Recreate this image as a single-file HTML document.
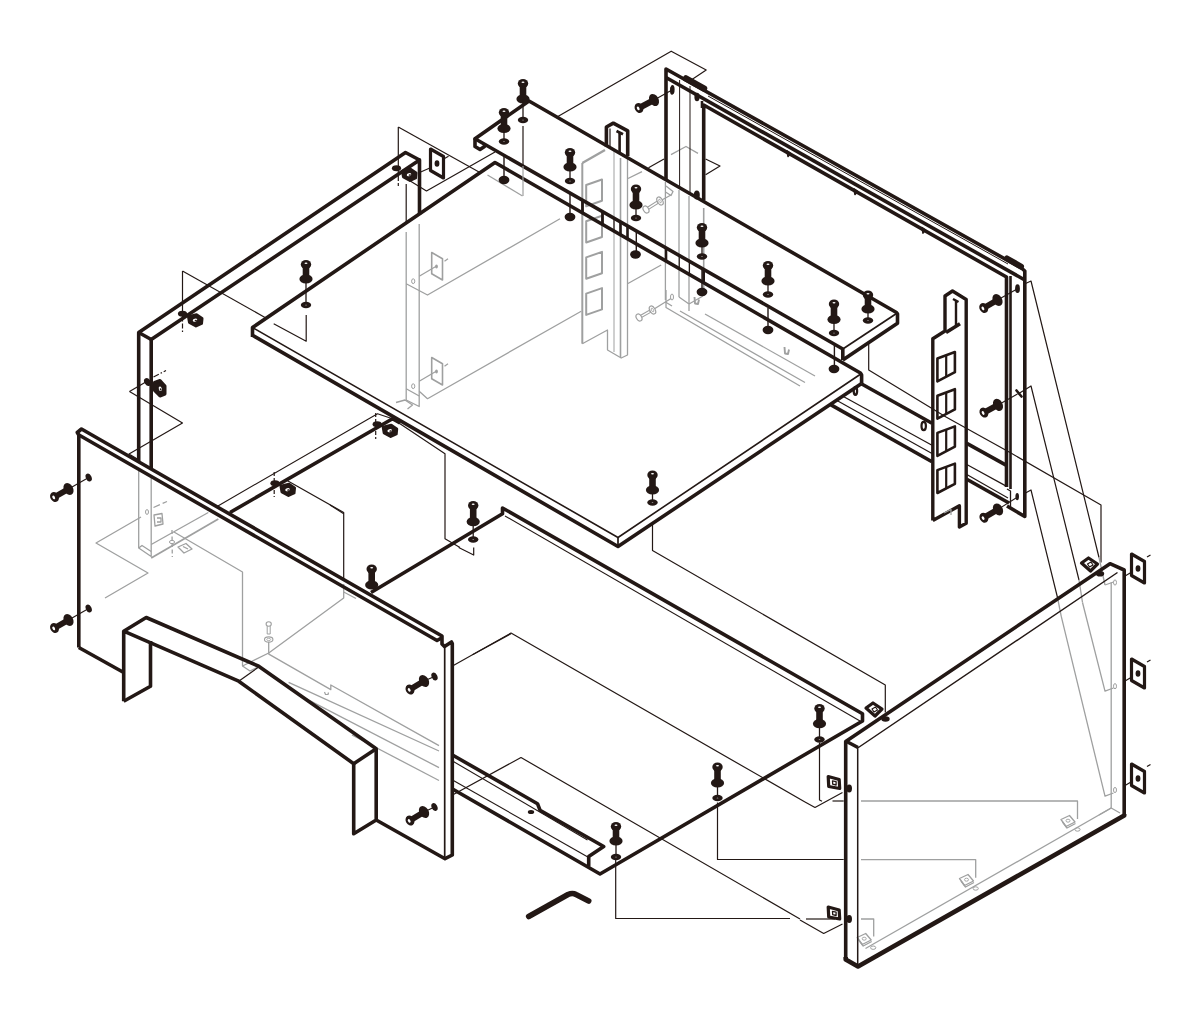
<!DOCTYPE html>
<html><head><meta charset="utf-8"><title>Exploded view</title>
<style>html,body{margin:0;padding:0;background:#fff;overflow:hidden}svg{display:block;position:absolute;left:0;top:0}</style></head>
<body>
<svg width="1200" height="1019" viewBox="0 0 1200 1019">
<path d="M406.2 232.0 L406.2 400.0 L419.2 406.5 L419.2 224.0" fill="none" stroke="#9fa0a0" stroke-width="1.30" stroke-linejoin="round" stroke-linecap="butt"/>
<path d="M396.0 402.5 L405.0 400.0 L412.5 405.0 L407.5 409.0" fill="none" stroke="#9fa0a0" stroke-width="1.30" stroke-linejoin="round" stroke-linecap="butt"/>
<path d="M431.7 252.5 L442.5 258.7 L442.5 280.0 L431.7 273.7 Z" fill="none" stroke="#9fa0a0" stroke-width="1.60" stroke-linejoin="round" stroke-linecap="butt"/>
<ellipse cx="436.5" cy="266.5" rx="1.4" ry="1.9" fill="#9fa0a0" stroke="none" stroke-width="0.00"/>
<ellipse cx="413.2" cy="281.2" rx="1.6" ry="2.4" fill="none" stroke="#9fa0a0" stroke-width="1.00"/>
<path d="M419.2 276.2 L436.2 266.2" fill="none" stroke="#9fa0a0" stroke-width="1.30" stroke-linejoin="round" stroke-linecap="butt"/>
<path d="M444.5 261.2 L448.0 258.8" fill="none" stroke="#9fa0a0" stroke-width="1.30" stroke-linejoin="round" stroke-linecap="butt"/>
<path d="M431.7 357.5 L442.5 363.7 L442.5 385.0 L431.7 378.7 Z" fill="none" stroke="#9fa0a0" stroke-width="1.60" stroke-linejoin="round" stroke-linecap="butt"/>
<ellipse cx="436.5" cy="371.5" rx="1.4" ry="1.9" fill="#9fa0a0" stroke="none" stroke-width="0.00"/>
<ellipse cx="413.2" cy="386.2" rx="1.6" ry="2.4" fill="none" stroke="#9fa0a0" stroke-width="1.00"/>
<path d="M419.2 381.2 L436.2 371.2" fill="none" stroke="#9fa0a0" stroke-width="1.30" stroke-linejoin="round" stroke-linecap="butt"/>
<path d="M444.5 366.2 L448.0 363.8" fill="none" stroke="#9fa0a0" stroke-width="1.30" stroke-linejoin="round" stroke-linecap="butt"/>
<path d="M406.2 283.7 L427.5 295.0 L560.0 218.7" fill="none" stroke="#9fa0a0" stroke-width="1.30" stroke-linejoin="round" stroke-linecap="butt"/>
<path d="M419.2 391.2 L427.5 398.7 L581.2 311.2" fill="none" stroke="#9fa0a0" stroke-width="1.30" stroke-linejoin="round" stroke-linecap="butt"/>
<path d="M406.2 388.7 L419.2 396.0" fill="none" stroke="#9fa0a0" stroke-width="1.30" stroke-linejoin="round" stroke-linecap="butt"/>
<path d="M582.3 163.0 L582.3 343.7" fill="none" stroke="#9fa0a0" stroke-width="2.00" stroke-linejoin="round" stroke-linecap="butt"/>
<path d="M582.3 343.7 L607.5 330.0 L607.5 350.0 L621.2 358.0 L627.5 355.0 L627.5 158.0" fill="none" stroke="#9fa0a0" stroke-width="1.30" stroke-linejoin="round" stroke-linecap="butt"/>
<path d="M582.3 163.0 L605.0 150.0" fill="none" stroke="#9fa0a0" stroke-width="2.40" stroke-linejoin="round" stroke-linecap="butt"/>
<path d="M614.0 150.0 L614.0 352.0" fill="none" stroke="#9fa0a0" stroke-width="1.00" stroke-linejoin="round" stroke-linecap="butt"/>
<path d="M620.5 158.0 L620.5 357.0" fill="none" stroke="#9fa0a0" stroke-width="1.60" stroke-linejoin="round" stroke-linecap="butt"/>
<path d="M586.2 185.0 L602.0 179.5 L602.0 200.8 L586.2 206.3 Z" fill="none" stroke="#9fa0a0" stroke-width="2.00" stroke-linejoin="round" stroke-linecap="butt"/>
<path d="M586.2 221.2 L602.0 215.7 L602.0 237.0 L586.2 242.5 Z" fill="none" stroke="#9fa0a0" stroke-width="2.00" stroke-linejoin="round" stroke-linecap="butt"/>
<path d="M586.2 257.4 L602.0 251.9 L602.0 273.2 L586.2 278.7 Z" fill="none" stroke="#9fa0a0" stroke-width="2.00" stroke-linejoin="round" stroke-linecap="butt"/>
<path d="M586.2 293.6 L602.0 288.1 L602.0 309.4 L586.2 314.9 Z" fill="none" stroke="#9fa0a0" stroke-width="2.00" stroke-linejoin="round" stroke-linecap="butt"/>
<path d="M628.0 178.5 L642.0 171.6" fill="none" stroke="#9fa0a0" stroke-width="1.30" stroke-linejoin="round" stroke-linecap="butt"/>
<path d="M660.0 201.0 L671.0 195.0" fill="none" stroke="#9fa0a0" stroke-width="1.30" stroke-linejoin="round" stroke-linecap="butt"/>
<path d="M646.0 209.5 L658.0 202.0" fill="none" stroke="#9fa0a0" stroke-width="3.40" stroke-linejoin="round" stroke-linecap="butt"/>
<path d="M647.0 209.0 L657.0 202.6" fill="none" stroke="#fff" stroke-width="1.40" stroke-linejoin="round" stroke-linecap="butt"/>
<ellipse cx="646.0" cy="209.5" rx="2.6" ry="3.8" fill="#fff" stroke="#9fa0a0" stroke-width="1.20" transform="rotate(-30 646.0 209.5)"/>
<ellipse cx="660.0" cy="201.0" rx="2.6" ry="4.4" fill="#fff" stroke="#9fa0a0" stroke-width="1.20" transform="rotate(-30 660.0 201.0)"/>
<ellipse cx="660.0" cy="201.0" rx="1.0" ry="2.0" fill="#fff" stroke="#9fa0a0" stroke-width="0.80" transform="rotate(-30 660.0 201.0)"/>
<path d="M652.5 310.0 L671.0 298.5" fill="none" stroke="#9fa0a0" stroke-width="1.30" stroke-linejoin="round" stroke-linecap="butt"/>
<path d="M639.0 317.5 L650.5 311.0" fill="none" stroke="#9fa0a0" stroke-width="3.40" stroke-linejoin="round" stroke-linecap="butt"/>
<path d="M640.0 317.0 L649.5 311.6" fill="none" stroke="#fff" stroke-width="1.40" stroke-linejoin="round" stroke-linecap="butt"/>
<ellipse cx="639.0" cy="317.5" rx="2.6" ry="3.8" fill="#fff" stroke="#9fa0a0" stroke-width="1.20" transform="rotate(-30 639.0 317.5)"/>
<ellipse cx="652.5" cy="310.0" rx="2.6" ry="4.4" fill="#fff" stroke="#9fa0a0" stroke-width="1.20" transform="rotate(-30 652.5 310.0)"/>
<ellipse cx="652.5" cy="310.0" rx="1.0" ry="2.0" fill="#fff" stroke="#9fa0a0" stroke-width="0.80" transform="rotate(-30 652.5 310.0)"/>
<path d="M666.0 186.0 L673.0 191.5 L671.0 195.5 L665.5 192.0" fill="none" stroke="#9fa0a0" stroke-width="1.30" stroke-linejoin="round" stroke-linecap="butt"/>
<path d="M665.4 182.0 L665.4 300.0" fill="none" stroke="#9fa0a0" stroke-width="1.30" stroke-linejoin="round" stroke-linecap="butt"/>
<path d="M679.0 190.0 L679.0 297.0" fill="none" stroke="#9fa0a0" stroke-width="1.30" stroke-linejoin="round" stroke-linecap="butt"/>
<path d="M689.0 196.0 L689.0 304.0" fill="none" stroke="#9fa0a0" stroke-width="1.30" stroke-linejoin="round" stroke-linecap="butt"/>
<path d="M703.7 208.0 L703.7 296.0" fill="none" stroke="#9fa0a0" stroke-width="1.60" stroke-linejoin="round" stroke-linecap="butt"/>
<path d="M627.5 283.7 L661.2 265.0" fill="none" stroke="#9fa0a0" stroke-width="1.30" stroke-linejoin="round" stroke-linecap="butt"/>
<path d="M665.4 302.0 L672.0 306.0" fill="none" stroke="#9fa0a0" stroke-width="1.30" stroke-linejoin="round" stroke-linecap="butt"/>
<ellipse cx="672.0" cy="297.0" rx="1.5" ry="3.0" fill="none" stroke="#9fa0a0" stroke-width="1.00"/>
<path d="M671.0 154.6 L686.0 146.5 L698.0 153.4" fill="none" stroke="#9fa0a0" stroke-width="1.30" stroke-linejoin="round" stroke-linecap="butt"/>
<path d="M666.0 290.0 L666.0 307.5 L800.0 386.0" fill="none" stroke="#9fa0a0" stroke-width="1.30" stroke-linejoin="round" stroke-linecap="butt"/>
<path d="M680.0 311.0 L805.0 382.5" fill="none" stroke="#9fa0a0" stroke-width="1.30" stroke-linejoin="round" stroke-linecap="butt"/>
<path d="M705.0 314.0 L815.0 376.0" fill="none" stroke="#9fa0a0" stroke-width="1.30" stroke-linejoin="round" stroke-linecap="butt"/>
<path d="M694.5 297.0 L695.0 303.5 L698.0 304.0 L699.0 299.5" fill="none" stroke="#9fa0a0" stroke-width="1.90" stroke-linejoin="round" stroke-linecap="butt"/>
<path d="M784.5 347.0 L785.0 353.5 L788.0 354.0 L789.0 349.5" fill="none" stroke="#9fa0a0" stroke-width="1.90" stroke-linejoin="round" stroke-linecap="butt"/>
<path d="M679.0 297.0 L689.0 304.0 L689.0 311.0" fill="none" stroke="#9fa0a0" stroke-width="1.30" stroke-linejoin="round" stroke-linecap="butt"/>
<path d="M689.0 304.0 L703.0 296.0" fill="none" stroke="#9fa0a0" stroke-width="1.30" stroke-linejoin="round" stroke-linecap="butt"/>
<path d="M138.7 470.0 L138.7 548.0 L151.2 556.5 L151.2 475.0" fill="none" stroke="#9fa0a0" stroke-width="1.30" stroke-linejoin="round" stroke-linecap="butt"/>
<path d="M138.7 548.0 L142.0 545.5 L151.2 551.5" fill="none" stroke="#9fa0a0" stroke-width="1.30" stroke-linejoin="round" stroke-linecap="butt"/>
<path d="M151.2 558.0 L218.3 519.0" fill="none" stroke="#9fa0a0" stroke-width="1.80" stroke-linejoin="round" stroke-linecap="butt"/>
<path d="M151.2 544.5 L208.3 512.5" fill="none" stroke="#9fa0a0" stroke-width="1.30" stroke-linejoin="round" stroke-linecap="butt"/>
<path d="M172.0 530.0 L172.3 557.0" fill="none" stroke="#9fa0a0" stroke-width="1.30" stroke-linejoin="round" stroke-linecap="butt" stroke-dasharray="4 2.5"/>
<ellipse cx="147.0" cy="512.0" rx="1.5" ry="2.4" fill="none" stroke="#9fa0a0" stroke-width="1.00"/>
<ellipse cx="172.0" cy="542.0" rx="2.6" ry="1.6" fill="none" stroke="#9fa0a0" stroke-width="1.00"/>
<path d="M153.5 507.5 L167.0 501.5" fill="none" stroke="#9fa0a0" stroke-width="1.30" stroke-linejoin="round" stroke-linecap="butt" stroke-dasharray="7 3"/>
<path d="M154.0 515.0 L162.0 513.5 L163.0 524.0 L155.0 526.0 Z" fill="none" stroke="#9fa0a0" stroke-width="1.30" stroke-linejoin="round" stroke-linecap="butt"/>
<path d="M157.0 518.0 L161.0 518.0 L161.0 522.0 L157.0 522.0" fill="none" stroke="#9fa0a0" stroke-width="1.30" stroke-linejoin="round" stroke-linecap="butt"/>
<path d="M178.0 547.0 L186.0 543.5 L192.0 549.0 L184.0 553.0 Z" fill="none" stroke="#9fa0a0" stroke-width="1.30" stroke-linejoin="round" stroke-linecap="butt"/>
<path d="M183.0 546.5 L188.0 549.0" fill="none" stroke="#9fa0a0" stroke-width="1.30" stroke-linejoin="round" stroke-linecap="butt"/>
<path d="M141.0 517.0 L96.0 543.0 L148.0 573.0 L105.0 598.0" fill="none" stroke="#9fa0a0" stroke-width="1.30" stroke-linejoin="round" stroke-linecap="butt"/>
<path d="M174.0 532.0 L242.5 572.0 L242.5 666.0 L250.0 671.0 L260.0 666.0" fill="none" stroke="#9fa0a0" stroke-width="1.30" stroke-linejoin="round" stroke-linecap="butt"/>
<path d="M343.7 584.0 L343.7 598.0 L268.7 653.0 L242.5 666.0" fill="none" stroke="#9fa0a0" stroke-width="1.30" stroke-linejoin="round" stroke-linecap="butt"/>
<path d="M343.7 592.0 L356.0 598.5" fill="none" stroke="#9fa0a0" stroke-width="1.30" stroke-linejoin="round" stroke-linecap="butt"/>
<path d="M268.4 653.9 L330.8 689.6 L330.8 685.0 L439.0 745.6" fill="none" stroke="#9fa0a0" stroke-width="1.30" stroke-linejoin="round" stroke-linecap="butt"/>
<path d="M288.6 682.3 L439.0 751.0" fill="none" stroke="#9fa0a0" stroke-width="1.30" stroke-linejoin="round" stroke-linecap="butt"/>
<path d="M301.0 696.1 L439.0 767.6" fill="none" stroke="#9fa0a0" stroke-width="1.30" stroke-linejoin="round" stroke-linecap="butt"/>
<path d="M352.0 735.0 L439.0 780.5" fill="none" stroke="#9fa0a0" stroke-width="1.30" stroke-linejoin="round" stroke-linecap="butt"/>
<path d="M324.5 692.0 L325.5 694.5 L328.0 694.5 L328.5 692.5" fill="none" stroke="#9fa0a0" stroke-width="1.20" stroke-linejoin="round" stroke-linecap="butt"/>
<ellipse cx="268.7" cy="624.0" rx="2.6" ry="2.2" fill="#fff" stroke="#9fa0a0" stroke-width="1.10"/>
<path d="M267.2 626.0 L267.2 634.0 L270.2 634.0 L270.2 626.0" fill="none" stroke="#9fa0a0" stroke-width="1.00" stroke-linejoin="round" stroke-linecap="butt"/>
<ellipse cx="268.7" cy="639.5" rx="4.2" ry="2.6" fill="#fff" stroke="#9fa0a0" stroke-width="1.10"/>
<ellipse cx="268.7" cy="639.5" rx="2.0" ry="1.1" fill="#fff" stroke="#9fa0a0" stroke-width="0.80"/>
<path d="M268.7 642.0 L268.7 653.7" fill="none" stroke="#9fa0a0" stroke-width="1.30" stroke-linejoin="round" stroke-linecap="butt"/>
<path d="M1111.2 582.5 L1111.2 808.0 L1120.0 813.0" fill="none" stroke="#9fa0a0" stroke-width="1.30" stroke-linejoin="round" stroke-linecap="butt"/>
<path d="M1099.0 815.0 L1111.2 808.0" fill="none" stroke="#9fa0a0" stroke-width="1.30" stroke-linejoin="round" stroke-linecap="butt"/>
<path d="M865.5 948.5 L1111.2 808.0" fill="none" stroke="#9fa0a0" stroke-width="1.30" stroke-linejoin="round" stroke-linecap="butt"/>
<ellipse cx="1115.0" cy="582.5" rx="1.5" ry="2.6" fill="none" stroke="#9fa0a0" stroke-width="1.00"/>
<ellipse cx="1115.0" cy="686.2" rx="1.5" ry="2.6" fill="none" stroke="#9fa0a0" stroke-width="1.00"/>
<ellipse cx="1115.0" cy="790.0" rx="1.5" ry="2.6" fill="none" stroke="#9fa0a0" stroke-width="1.00"/>
<path d="M1105.0 585.0 L1113.5 582.0" fill="none" stroke="#9fa0a0" stroke-width="1.30" stroke-linejoin="round" stroke-linecap="butt"/>
<path d="M1082.5 602.5 L1105.0 691.2 L1113.5 688.0" fill="none" stroke="#9fa0a0" stroke-width="1.30" stroke-linejoin="round" stroke-linecap="butt"/>
<path d="M1061.2 616.2 L1105.0 796.2 L1113.5 793.0" fill="none" stroke="#9fa0a0" stroke-width="1.30" stroke-linejoin="round" stroke-linecap="butt"/>
<path d="M861.0 801.0 L1077.5 801.0 L1077.5 819.0" fill="none" stroke="#9fa0a0" stroke-width="1.30" stroke-linejoin="round" stroke-linecap="butt"/>
<path d="M861.0 859.7 L975.7 859.7 L975.7 877.7" fill="none" stroke="#9fa0a0" stroke-width="1.30" stroke-linejoin="round" stroke-linecap="butt"/>
<path d="M861.0 919.0 L873.7 919.0 L873.7 936.5" fill="none" stroke="#9fa0a0" stroke-width="1.30" stroke-linejoin="round" stroke-linecap="butt"/>
<path d="M1061.0 819.5 L1069.5 815.5 L1075.0 822.0 L1066.0 826.5 Z" fill="none" stroke="#9fa0a0" stroke-width="1.30" stroke-linejoin="round" stroke-linecap="butt"/>
<path d="M1062.5 822.0 L1067.0 828.0 L1075.5 823.5" fill="none" stroke="#9fa0a0" stroke-width="1.30" stroke-linejoin="round" stroke-linecap="butt"/>
<ellipse cx="1068.0" cy="820.7" rx="2.0" ry="1.5" fill="none" stroke="#9fa0a0" stroke-width="0.90"/>
<path d="M959.5 878.5 L968.0 874.5 L973.5 881.0 L964.5 885.5 Z" fill="none" stroke="#9fa0a0" stroke-width="1.30" stroke-linejoin="round" stroke-linecap="butt"/>
<path d="M961.0 881.0 L965.5 887.0 L974.0 882.5" fill="none" stroke="#9fa0a0" stroke-width="1.30" stroke-linejoin="round" stroke-linecap="butt"/>
<ellipse cx="966.5" cy="879.7" rx="2.0" ry="1.5" fill="none" stroke="#9fa0a0" stroke-width="0.90"/>
<path d="M857.2 937.5 L865.7 933.5 L871.2 940.0 L862.2 944.5 Z" fill="none" stroke="#9fa0a0" stroke-width="1.30" stroke-linejoin="round" stroke-linecap="butt"/>
<path d="M858.7 940.0 L863.2 946.0 L871.7 941.5" fill="none" stroke="#9fa0a0" stroke-width="1.30" stroke-linejoin="round" stroke-linecap="butt"/>
<ellipse cx="864.2" cy="938.7" rx="2.0" ry="1.5" fill="none" stroke="#9fa0a0" stroke-width="0.90"/>
<ellipse cx="1077.5" cy="829.5" rx="2.6" ry="1.7" fill="none" stroke="#9fa0a0" stroke-width="1.00"/>
<ellipse cx="975.7" cy="888.5" rx="2.6" ry="1.7" fill="none" stroke="#9fa0a0" stroke-width="1.00"/>
<ellipse cx="873.2" cy="947.7" rx="2.6" ry="1.7" fill="none" stroke="#9fa0a0" stroke-width="1.00"/>
<path d="M182.5 271.0 L182.5 313.0" fill="none" stroke="#231815" stroke-width="1.20" stroke-linejoin="round" stroke-linecap="butt"/>
<path d="M182.5 313.0 L182.5 332.0" fill="none" stroke="#231815" stroke-width="1.20" stroke-linejoin="round" stroke-linecap="butt" stroke-dasharray="5 2 1.5 2"/>
<path d="M182.5 271.0 L265.0 317.5" fill="none" stroke="#231815" stroke-width="1.20" stroke-linejoin="round" stroke-linecap="butt"/>
<path d="M273.7 323.7 L306.2 341.2 L306.2 315.0" fill="none" stroke="#231815" stroke-width="1.20" stroke-linejoin="round" stroke-linecap="butt"/>
<path d="M129.5 391.5 L182.5 423.0 L129.0 454.0 L139.0 460.0" fill="none" stroke="#231815" stroke-width="1.20" stroke-linejoin="round" stroke-linecap="butt"/>
<path d="M129.5 391.5 L147.5 381.0" fill="none" stroke="#231815" stroke-width="1.20" stroke-linejoin="round" stroke-linecap="butt"/>
<path d="M153.5 377.0 L166.0 370.5" fill="none" stroke="#231815" stroke-width="1.20" stroke-linejoin="round" stroke-linecap="butt" stroke-dasharray="6 2 1.5 2"/>
<path d="M286.2 480.0 L343.7 512.5 L343.7 580.0" fill="none" stroke="#231815" stroke-width="1.20" stroke-linejoin="round" stroke-linecap="butt"/>
<path d="M274.2 472.0 L274.2 497.0" fill="none" stroke="#231815" stroke-width="1.20" stroke-linejoin="round" stroke-linecap="butt" stroke-dasharray="4 2"/>
<path d="M375.7 413.0 L375.7 439.0" fill="none" stroke="#231815" stroke-width="1.20" stroke-linejoin="round" stroke-linecap="butt" stroke-dasharray="4 2"/>
<path d="M392.5 418.7 L445.0 453.7 L445.0 538.7 L460.0 547.5" fill="none" stroke="#231815" stroke-width="1.20" stroke-linejoin="round" stroke-linecap="butt"/>
<path d="M458.7 547.5 L473.7 555.0 L473.7 547.5" fill="none" stroke="#231815" stroke-width="1.20" stroke-linejoin="round" stroke-linecap="butt"/>
<path d="M398.3 127.0 L398.3 177.0" fill="none" stroke="#231815" stroke-width="1.20" stroke-linejoin="round" stroke-linecap="butt"/>
<path d="M398.3 177.0 L398.3 186.0" fill="none" stroke="#231815" stroke-width="1.20" stroke-linejoin="round" stroke-linecap="butt" stroke-dasharray="4 2"/>
<path d="M398.3 127.0 L479.0 172.0" fill="none" stroke="#231815" stroke-width="1.20" stroke-linejoin="round" stroke-linecap="butt"/>
<path d="M495.0 152.0 L426.5 191.0 L407.0 179.0" fill="none" stroke="#231815" stroke-width="1.20" stroke-linejoin="round" stroke-linecap="butt"/>
<path d="M419.5 172.5 L431.0 167.5" fill="none" stroke="#231815" stroke-width="1.20" stroke-linejoin="round" stroke-linecap="butt"/>
<path d="M444.5 158.5 L448.5 156.3" fill="none" stroke="#231815" stroke-width="1.20" stroke-linejoin="round" stroke-linecap="butt"/>
<path d="M557.0 117.0 L671.2 51.2 L706.2 70.0 L691.2 80.0" fill="none" stroke="#231815" stroke-width="1.20" stroke-linejoin="round" stroke-linecap="butt"/>
<path d="M648.5 167.8 L664.0 159.0" fill="none" stroke="#231815" stroke-width="1.20" stroke-linejoin="round" stroke-linecap="butt"/>
<path d="M705.6 159.0 L720.0 166.0 L705.6 174.7" fill="none" stroke="#231815" stroke-width="1.20" stroke-linejoin="round" stroke-linecap="butt"/>
<path d="M1025.0 283.7 L1031.0 281.0 L1099.0 557.5" fill="none" stroke="#231815" stroke-width="1.20" stroke-linejoin="round" stroke-linecap="butt"/>
<path d="M1018.0 394.0 L1031.0 386.0 L1079.0 580.0" fill="none" stroke="#231815" stroke-width="1.20" stroke-linejoin="round" stroke-linecap="butt"/>
<path d="M1010.0 452.5 L1101.0 505.0 L1101.0 562.5" fill="none" stroke="#231815" stroke-width="1.20" stroke-linejoin="round" stroke-linecap="butt"/>
<path d="M1025.5 493.0 L1031.0 490.0 L1057.5 597.5" fill="none" stroke="#231815" stroke-width="1.20" stroke-linejoin="round" stroke-linecap="butt"/>
<path d="M1057.5 597.5 L1061.2 616.2" fill="none" stroke="#9fa0a0" stroke-width="1.30" stroke-linejoin="round" stroke-linecap="butt"/>
<path d="M1079.0 580.0 L1082.5 602.5" fill="none" stroke="#9fa0a0" stroke-width="1.30" stroke-linejoin="round" stroke-linecap="butt"/>
<path d="M1099.0 557.5 L1105.0 585.0" fill="none" stroke="#9fa0a0" stroke-width="1.30" stroke-linejoin="round" stroke-linecap="butt"/>
<path d="M946.0 417.0 L1010.0 452.5" fill="none" stroke="#231815" stroke-width="1.20" stroke-linejoin="round" stroke-linecap="butt"/>
<path d="M868.7 343.7 L868.7 370.0 L946.0 417.0" fill="none" stroke="#231815" stroke-width="1.20" stroke-linejoin="round" stroke-linecap="butt"/>
<path d="M452.5 666.0 L511.0 633.0 L805.0 802.0" fill="none" stroke="#231815" stroke-width="1.20" stroke-linejoin="round" stroke-linecap="butt"/>
<path d="M805.0 802.0 L815.0 807.5 L842.5 792.5" fill="none" stroke="#231815" stroke-width="1.20" stroke-linejoin="round" stroke-linecap="butt"/>
<path d="M452.5 795.0 L521.0 757.5 L800.0 919.0" fill="none" stroke="#231815" stroke-width="1.20" stroke-linejoin="round" stroke-linecap="butt"/>
<path d="M800.0 920.0 L823.7 933.5 L842.5 924.0" fill="none" stroke="#231815" stroke-width="1.20" stroke-linejoin="round" stroke-linecap="butt"/>
<path d="M652.5 525.0 L652.5 550.5 L885.3 685.0 L885.3 712.5" fill="none" stroke="#231815" stroke-width="1.20" stroke-linejoin="round" stroke-linecap="butt"/>
<path d="M819.5 742.5 L819.5 800.0 L822.0 801.3" fill="none" stroke="#231815" stroke-width="1.20" stroke-linejoin="round" stroke-linecap="butt"/>
<path d="M832.5 801.0 L843.7 801.0" fill="none" stroke="#231815" stroke-width="1.20" stroke-linejoin="round" stroke-linecap="butt"/>
<path d="M717.5 802.5 L717.5 859.5 L843.7 859.5" fill="none" stroke="#231815" stroke-width="1.20" stroke-linejoin="round" stroke-linecap="butt"/>
<path d="M615.7 860.0 L615.7 918.5 L790.0 918.5" fill="none" stroke="#231815" stroke-width="1.20" stroke-linejoin="round" stroke-linecap="butt"/>
<path d="M806.0 919.0 L835.0 919.0" fill="none" stroke="#231815" stroke-width="1.20" stroke-linejoin="round" stroke-linecap="butt"/>
<path d="M330.0 505.0 L343.7 513.7" fill="none" stroke="#231815" stroke-width="1.20" stroke-linejoin="round" stroke-linecap="butt"/>
<path d="M472.5 654.7 L511.0 633.7" fill="none" stroke="#231815" stroke-width="1.20" stroke-linejoin="round" stroke-linecap="butt"/>
<path d="M151.2 468.0 L151.2 339.5 L419.5 160.0 L419.5 214.5" fill="none" stroke="#231815" stroke-width="3.60" stroke-linejoin="round" stroke-linecap="butt"/>
<path d="M138.7 461.0 L138.7 332.5 L405.5 152.5 L419.5 160.0" fill="none" stroke="#231815" stroke-width="3.60" stroke-linejoin="round" stroke-linecap="butt"/>
<path d="M138.7 332.5 L151.2 339.5" fill="none" stroke="#231815" stroke-width="3.60" stroke-linejoin="round" stroke-linecap="butt"/>
<path d="M406.2 184.0 L406.2 223.0" fill="none" stroke="#231815" stroke-width="1.20" stroke-linejoin="round" stroke-linecap="butt"/>
<path d="M252.5 337.0 L252.5 327.5 L495.0 162.5 L860.4 373.0 L861.6 375.0 L861.6 383.6" fill="none" stroke="#231815" stroke-width="3.60" stroke-linejoin="round" stroke-linecap="butt"/>
<path d="M252.5 335.3 L618.0 546.5 L861.6 383.6" fill="none" stroke="#231815" stroke-width="3.60" stroke-linejoin="round" stroke-linecap="butt"/>
<path d="M252.5 327.5 L618.0 537.5 L860.0 374.5" fill="none" stroke="#231815" stroke-width="1.60" stroke-linejoin="round" stroke-linecap="butt"/>
<path d="M618.0 537.5 L618.0 546.5" fill="none" stroke="#231815" stroke-width="1.70" stroke-linejoin="round" stroke-linecap="butt"/>
<path d="M842.8 360.0 L842.8 349.0 L475.0 138.7 L529.0 101.0 L896.0 312.2 L897.5 314.0 L897.5 323.3 L842.8 360.0" fill="none" stroke="#231815" stroke-width="3.60" stroke-linejoin="round" stroke-linecap="butt"/>
<path d="M842.8 349.0 L896.5 313.5" fill="none" stroke="#231815" stroke-width="1.70" stroke-linejoin="round" stroke-linecap="butt"/>
<path d="M475.0 138.7 L475.0 146.5 L480.0 149.5 L484.5 146.5 L484.5 144.0" fill="none" stroke="#231815" stroke-width="3.60" stroke-linejoin="round" stroke-linecap="butt"/>
<path d="M582.5 200.5 L582.5 213.0" fill="none" stroke="#231815" stroke-width="2.80" stroke-linejoin="round" stroke-linecap="butt"/>
<path d="M602.5 212.0 L602.5 224.6" fill="none" stroke="#231815" stroke-width="2.80" stroke-linejoin="round" stroke-linecap="butt"/>
<path d="M614.0 218.6 L614.0 231.2" fill="none" stroke="#231815" stroke-width="1.20" stroke-linejoin="round" stroke-linecap="butt"/>
<path d="M620.5 222.4 L620.5 235.0" fill="none" stroke="#231815" stroke-width="2.60" stroke-linejoin="round" stroke-linecap="butt"/>
<path d="M627.5 226.4 L627.5 239.0" fill="none" stroke="#231815" stroke-width="2.60" stroke-linejoin="round" stroke-linecap="butt"/>
<path d="M666.0 248.5 L666.0 261.3" fill="none" stroke="#231815" stroke-width="2.60" stroke-linejoin="round" stroke-linecap="butt"/>
<path d="M679.3 256.2 L679.3 269.0" fill="none" stroke="#231815" stroke-width="1.10" stroke-linejoin="round" stroke-linecap="butt"/>
<path d="M689.5 262.0 L689.5 274.9" fill="none" stroke="#231815" stroke-width="1.10" stroke-linejoin="round" stroke-linecap="butt"/>
<path d="M703.6 270.1 L703.6 283.0" fill="none" stroke="#231815" stroke-width="2.80" stroke-linejoin="round" stroke-linecap="butt"/>
<path d="M371.0 592.5 L502.5 513.7 L502.5 508.0 L862.5 713.7 L862.5 721.0 L600.0 874.0 L452.5 789.0" fill="none" stroke="#231815" stroke-width="3.60" stroke-linejoin="round" stroke-linecap="butt"/>
<path d="M505.0 516.0 L860.0 721.0" fill="none" stroke="#231815" stroke-width="1.10" stroke-linejoin="round" stroke-linecap="butt"/>
<path d="M230.0 512.5 L392.5 418.7 L400.0 423.0" fill="none" stroke="#231815" stroke-width="3.60" stroke-linejoin="round" stroke-linecap="butt"/>
<path d="M217.5 506.2 L377.5 413.7 L392.5 418.7" fill="none" stroke="#231815" stroke-width="1.10" stroke-linejoin="round" stroke-linecap="butt"/>
<path d="M452.5 755.0 L537.5 803.7 L540.0 810.2 L603.7 846.5 L588.7 856.5 L588.7 866.5" fill="none" stroke="#231815" stroke-width="3.60" stroke-linejoin="round" stroke-linecap="butt"/>
<path d="M452.5 761.0 L587.5 840.0" fill="none" stroke="#231815" stroke-width="1.10" stroke-linejoin="round" stroke-linecap="butt"/>
<path d="M452.5 780.0 L588.7 857.5" fill="none" stroke="#231815" stroke-width="1.10" stroke-linejoin="round" stroke-linecap="butt"/>
<ellipse cx="531.0" cy="812.0" rx="3.2" ry="2.0" fill="#231815" stroke="none" stroke-width="0.00"/>
<path d="M78.8 647.5 L78.8 435.0 L77.3 432.5 L81.5 429.0 L442.0 636.0 L442.0 644.0 L444.5 646.5 L451.5 642.0 L452.3 643.5 L452.3 855.0 L445.0 858.7 L376.2 820.0" fill="none" stroke="#231815" stroke-width="3.60" stroke-linejoin="round" stroke-linecap="butt"/>
<path d="M79.0 435.0 L437.0 640.5 L441.5 638.0" fill="none" stroke="#231815" stroke-width="3.60" stroke-linejoin="round" stroke-linecap="butt"/>
<path d="M444.7 647.0 L444.7 858.0" fill="none" stroke="#231815" stroke-width="1.70" stroke-linejoin="round" stroke-linecap="butt"/>
<path d="M78.8 647.5 L123.7 672.5" fill="none" stroke="#231815" stroke-width="3.60" stroke-linejoin="round" stroke-linecap="butt"/>
<path d="M123.7 701.2 L123.7 631.2 L146.2 617.5 L258.7 666.2 L376.2 748.7 L376.2 820.0 L353.7 833.7 L353.7 763.7 L238.7 681.2 L123.7 631.2" fill="none" stroke="#231815" stroke-width="3.60" stroke-linejoin="round" stroke-linecap="butt"/>
<path d="M123.7 701.2 L150.5 686.2 L150.5 641.0" fill="none" stroke="#231815" stroke-width="3.60" stroke-linejoin="round" stroke-linecap="butt"/>
<path d="M353.7 763.7 L376.2 748.7" fill="none" stroke="#231815" stroke-width="3.60" stroke-linejoin="round" stroke-linecap="butt"/>
<path d="M238.7 681.2 L258.7 667.0" fill="none" stroke="#231815" stroke-width="1.20" stroke-linejoin="round" stroke-linecap="butt"/>
<path d="M845.7 959.0 L845.7 741.5 L1110.0 563.7 L1124.2 570.0 L1124.2 815.0" fill="none" stroke="#231815" stroke-width="3.60" stroke-linejoin="round" stroke-linecap="butt"/>
<path d="M1124.2 814.0 L1124.2 815.5 L858.0 966.5 L845.7 959.5 L845.7 957.0" fill="none" stroke="#231815" stroke-width="4.60" stroke-linejoin="round" stroke-linecap="butt"/>
<path d="M857.7 964.0 L857.7 748.0 L1117.5 572.5" fill="none" stroke="#231815" stroke-width="1.50" stroke-linejoin="round" stroke-linecap="butt"/>
<path d="M845.7 741.0 L858.0 747.5" fill="none" stroke="#231815" stroke-width="3.60" stroke-linejoin="round" stroke-linecap="butt"/>
<path d="M528.7 916.5 L568 894.5 Q572.5 892.5 576 894.5 L588.7 901" fill="none" stroke="#231815" stroke-width="5.6" stroke-linecap="round" stroke-linejoin="round"/>
<path d="M666.0 179.0 L666.0 69.0 L1022.0 268.5 L1024.8 271.0 L1024.8 516.5 L1007.0 506.0" fill="none" stroke="#231815" stroke-width="3.60" stroke-linejoin="round" stroke-linecap="butt"/>
<path d="M666.0 77.5 L1024.8 280.0" fill="none" stroke="#231815" stroke-width="3.60" stroke-linejoin="round" stroke-linecap="butt"/>
<path d="M703.7 200.5 L703.7 105.0 L1006.5 277.0 L1006.5 487.0" fill="none" stroke="#231815" stroke-width="3.60" stroke-linejoin="round" stroke-linecap="butt"/>
<path d="M1010.5 276.0 L1010.5 489.0" fill="none" stroke="#231815" stroke-width="2.60" stroke-linejoin="round" stroke-linecap="butt"/>
<path d="M1007.0 489.0 L1010.5 491.0 L1010.5 507.0" fill="none" stroke="#231815" stroke-width="1.30" stroke-linejoin="round" stroke-linecap="butt"/>
<path d="M679.6 80.0 L679.6 187.0" fill="none" stroke="#231815" stroke-width="1.00" stroke-linejoin="round" stroke-linecap="butt"/>
<path d="M690.0 86.0 L690.0 193.0" fill="none" stroke="#231815" stroke-width="1.00" stroke-linejoin="round" stroke-linecap="butt"/>
<path d="M708.0 96.0 L1008.0 264.0" fill="none" stroke="#231815" stroke-width="1.00" stroke-linejoin="round" stroke-linecap="butt"/>
<path d="M686.0 78.5 L704.0 88.5" fill="none" stroke="#231815" stroke-width="6.50" stroke-linejoin="round" stroke-linecap="round"/>
<path d="M1007.0 258.5 L1021.0 266.5" fill="none" stroke="#231815" stroke-width="6.00" stroke-linejoin="round" stroke-linecap="round"/>
<ellipse cx="672.5" cy="89.5" rx="2.1" ry="4.6" fill="#231815" stroke="none" stroke-width="0.00"/>
<ellipse cx="697.0" cy="97.0" rx="2.6" ry="4.2" fill="#231815" stroke="none" stroke-width="0.00"/>
<path d="M702.0 101.0 L702.0 108.0" fill="none" stroke="#231815" stroke-width="2.60" stroke-linejoin="round" stroke-linecap="butt"/>
<ellipse cx="696.8" cy="195.0" rx="3.0" ry="4.6" fill="#231815" stroke="none" stroke-width="0.00"/>
<path d="M787.0 150.9 L790.5 153.4 L788.0 156.4 Z" fill="#231815" stroke="#231815" stroke-width="1.60" stroke-linejoin="round" stroke-linecap="butt"/>
<path d="M854.0 189.0 L857.5 191.5 L855.0 194.5 Z" fill="#231815" stroke="#231815" stroke-width="1.60" stroke-linejoin="round" stroke-linecap="butt"/>
<path d="M922.0 227.6 L925.5 230.1 L923.0 233.1 Z" fill="#231815" stroke="#231815" stroke-width="1.60" stroke-linejoin="round" stroke-linecap="butt"/>
<path d="M861.3 383.8 L932.0 423.2" fill="none" stroke="#231815" stroke-width="3.60" stroke-linejoin="round" stroke-linecap="butt"/>
<path d="M966.8 443.4 L1006.5 465.4" fill="none" stroke="#231815" stroke-width="3.60" stroke-linejoin="round" stroke-linecap="butt"/>
<path d="M842.0 395.7 L932.0 445.2" fill="none" stroke="#231815" stroke-width="1.20" stroke-linejoin="round" stroke-linecap="butt"/>
<path d="M966.8 464.5 L1005.3 485.6" fill="none" stroke="#231815" stroke-width="1.20" stroke-linejoin="round" stroke-linecap="butt"/>
<path d="M836.5 400.3 L932.0 453.5" fill="none" stroke="#231815" stroke-width="1.20" stroke-linejoin="round" stroke-linecap="butt"/>
<path d="M966.8 474.6 L1008.0 498.0" fill="none" stroke="#231815" stroke-width="1.20" stroke-linejoin="round" stroke-linecap="butt"/>
<path d="M831.0 404.9 L932.0 461.7" fill="none" stroke="#231815" stroke-width="3.60" stroke-linejoin="round" stroke-linecap="butt"/>
<path d="M966.8 479.2 L1009.0 503.0" fill="none" stroke="#231815" stroke-width="3.60" stroke-linejoin="round" stroke-linecap="butt"/>
<ellipse cx="923.7" cy="426.0" rx="2.2" ry="4.2" fill="none" stroke="#231815" stroke-width="2.20"/>
<ellipse cx="855.4" cy="391.0" rx="1.7" ry="3.8" fill="none" stroke="#231815" stroke-width="2.30"/>
<ellipse cx="1017.2" cy="496.6" rx="1.8" ry="3.6" fill="#231815" stroke="none" stroke-width="0.00"/>
<path d="M932.8 520.5 L932.8 338.7 L945.0 331.0 L945.0 296.0 L952.5 291.0 L966.2 299.5 L966.2 523.2 L959.4 526.9 L959.4 505.8 L932.8 520.5" fill="none" stroke="#231815" stroke-width="3.40" stroke-linejoin="round" stroke-linecap="butt"/>
<path d="M956.0 301.0 L956.0 325.0" fill="none" stroke="#231815" stroke-width="2.40" stroke-linejoin="round" stroke-linecap="butt"/>
<path d="M946.0 332.5 L960.0 323.7" fill="none" stroke="#231815" stroke-width="3.60" stroke-linejoin="round" stroke-linecap="butt"/>
<path d="M953.0 299.0 L958.5 302.0" fill="none" stroke="#231815" stroke-width="2.40" stroke-linejoin="round" stroke-linecap="butt"/>
<path d="M937.4 358.5 L954.9 352.0 L954.9 372.2 L937.4 381.4 Z" fill="none" stroke="#231815" stroke-width="2.60" stroke-linejoin="round" stroke-linecap="butt"/>
<path d="M946.2 355.5 L946.2 376.5" fill="none" stroke="#231815" stroke-width="2.20" stroke-linejoin="round" stroke-linecap="butt"/>
<path d="M937.4 395.7 L954.9 389.2 L954.9 409.4 L937.4 418.6 Z" fill="none" stroke="#231815" stroke-width="2.60" stroke-linejoin="round" stroke-linecap="butt"/>
<path d="M946.2 392.7 L946.2 413.7" fill="none" stroke="#231815" stroke-width="2.20" stroke-linejoin="round" stroke-linecap="butt"/>
<path d="M937.4 432.9 L954.9 426.4 L954.9 446.6 L937.4 455.8 Z" fill="none" stroke="#231815" stroke-width="2.60" stroke-linejoin="round" stroke-linecap="butt"/>
<path d="M946.2 429.9 L946.2 450.9" fill="none" stroke="#231815" stroke-width="2.20" stroke-linejoin="round" stroke-linecap="butt"/>
<path d="M937.4 470.1 L954.9 463.6 L954.9 483.8 L937.4 493.0 Z" fill="none" stroke="#231815" stroke-width="2.60" stroke-linejoin="round" stroke-linecap="butt"/>
<path d="M946.2 467.1 L946.2 488.1" fill="none" stroke="#231815" stroke-width="2.20" stroke-linejoin="round" stroke-linecap="butt"/>
<path d="M944.0 513.0 L951.0 509.5 L951.0 515.0" fill="none" stroke="#9fa0a0" stroke-width="1.30" stroke-linejoin="round" stroke-linecap="butt"/>
<path d="M606.4 146.5 L606.4 127.0 L613.3 123.2 L627.7 130.8 L627.7 156.0" fill="none" stroke="#231815" stroke-width="3.60" stroke-linejoin="round" stroke-linecap="butt"/>
<path d="M610.0 128.5 L610.0 148.5" fill="none" stroke="#231815" stroke-width="1.20" stroke-linejoin="round" stroke-linecap="butt"/>
<path d="M619.6 132.5 L619.6 152.5" fill="none" stroke="#231815" stroke-width="2.60" stroke-linejoin="round" stroke-linecap="butt"/>
<path d="M616.5 131.0 L623.0 134.2" fill="none" stroke="#231815" stroke-width="2.80" stroke-linejoin="round" stroke-linecap="butt"/>
<ellipse cx="523.0" cy="83.5" rx="5.2" ry="4.6" fill="#231815" stroke="none" stroke-width="0.00"/>
<path d="M523.0 83.0 L523.0 97.0" fill="none" stroke="#231815" stroke-width="6.60" stroke-linejoin="round" stroke-linecap="butt"/>
<ellipse cx="523.0" cy="99.0" rx="6.6" ry="4.6" fill="#231815" stroke="none" stroke-width="0.00"/>
<ellipse cx="523.0" cy="82.3" rx="1.5" ry="0.7" fill="#fff" stroke="none" stroke-width="0.00"/>
<path d="M523.0 99.0 L523.0 120.0" fill="none" stroke="#231815" stroke-width="1.30" stroke-linejoin="round" stroke-linecap="butt"/>
<ellipse cx="523.0" cy="120.0" rx="5.2" ry="3.2" fill="#231815" stroke="none" stroke-width="0.00"/>
<ellipse cx="523.0" cy="120.0" rx="0.9" ry="0.3" fill="#fff" stroke="none" stroke-width="0.00"/>
<path d="M523.0 126.0 L523.0 166.0" fill="none" stroke="#231815" stroke-width="1.20" stroke-linejoin="round" stroke-linecap="butt"/>
<path d="M523.0 166.0 L523.0 196.0" fill="none" stroke="#9fa0a0" stroke-width="1.20" stroke-linejoin="round" stroke-linecap="butt"/>
<path d="M487.5 175.0 L522.5 196.0" fill="none" stroke="#9fa0a0" stroke-width="1.20" stroke-linejoin="round" stroke-linecap="butt"/>
<ellipse cx="504.0" cy="112.5" rx="5.2" ry="4.6" fill="#231815" stroke="none" stroke-width="0.00"/>
<path d="M504.0 112.0 L504.0 126.5" fill="none" stroke="#231815" stroke-width="6.60" stroke-linejoin="round" stroke-linecap="butt"/>
<ellipse cx="504.0" cy="128.5" rx="6.6" ry="4.6" fill="#231815" stroke="none" stroke-width="0.00"/>
<ellipse cx="504.0" cy="111.3" rx="1.5" ry="0.7" fill="#fff" stroke="none" stroke-width="0.00"/>
<path d="M504.0 128.5 L504.0 141.5" fill="none" stroke="#231815" stroke-width="1.30" stroke-linejoin="round" stroke-linecap="butt"/>
<ellipse cx="504.0" cy="141.5" rx="5.2" ry="3.2" fill="#231815" stroke="none" stroke-width="0.00"/>
<ellipse cx="504.0" cy="141.5" rx="0.9" ry="0.3" fill="#fff" stroke="none" stroke-width="0.00"/>
<ellipse cx="504.0" cy="180.0" rx="5.4" ry="4.2" fill="#231815" stroke="none" stroke-width="0.00"/>
<path d="M504.0 155.5 L504.0 178.0" fill="none" stroke="#231815" stroke-width="1.40" stroke-linejoin="round" stroke-linecap="butt"/>
<ellipse cx="570.0" cy="152.5" rx="5.2" ry="4.6" fill="#231815" stroke="none" stroke-width="0.00"/>
<path d="M570.0 152.0 L570.0 165.0" fill="none" stroke="#231815" stroke-width="6.60" stroke-linejoin="round" stroke-linecap="butt"/>
<ellipse cx="570.0" cy="167.0" rx="6.6" ry="4.6" fill="#231815" stroke="none" stroke-width="0.00"/>
<ellipse cx="570.0" cy="151.3" rx="1.5" ry="0.7" fill="#fff" stroke="none" stroke-width="0.00"/>
<path d="M570.0 167.0 L570.0 181.0" fill="none" stroke="#231815" stroke-width="1.30" stroke-linejoin="round" stroke-linecap="butt"/>
<ellipse cx="570.0" cy="181.0" rx="5.2" ry="3.2" fill="#231815" stroke="none" stroke-width="0.00"/>
<ellipse cx="570.0" cy="181.0" rx="0.9" ry="0.3" fill="#fff" stroke="none" stroke-width="0.00"/>
<ellipse cx="570.0" cy="217.0" rx="5.4" ry="4.2" fill="#231815" stroke="none" stroke-width="0.00"/>
<path d="M570.0 194.0 L570.0 215.0" fill="none" stroke="#231815" stroke-width="1.40" stroke-linejoin="round" stroke-linecap="butt"/>
<ellipse cx="636.0" cy="189.0" rx="5.2" ry="4.6" fill="#231815" stroke="none" stroke-width="0.00"/>
<path d="M636.0 188.5 L636.0 203.0" fill="none" stroke="#231815" stroke-width="6.60" stroke-linejoin="round" stroke-linecap="butt"/>
<ellipse cx="636.0" cy="205.0" rx="6.6" ry="4.6" fill="#231815" stroke="none" stroke-width="0.00"/>
<ellipse cx="636.0" cy="187.8" rx="1.5" ry="0.7" fill="#fff" stroke="none" stroke-width="0.00"/>
<path d="M636.0 205.0 L636.0 218.0" fill="none" stroke="#231815" stroke-width="1.30" stroke-linejoin="round" stroke-linecap="butt"/>
<ellipse cx="636.0" cy="218.0" rx="5.2" ry="3.2" fill="#231815" stroke="none" stroke-width="0.00"/>
<ellipse cx="636.0" cy="218.0" rx="0.9" ry="0.3" fill="#fff" stroke="none" stroke-width="0.00"/>
<ellipse cx="635.5" cy="254.5" rx="5.4" ry="4.2" fill="#231815" stroke="none" stroke-width="0.00"/>
<path d="M636.3 232.0 L636.3 252.0" fill="none" stroke="#231815" stroke-width="1.40" stroke-linejoin="round" stroke-linecap="butt"/>
<ellipse cx="702.0" cy="227.5" rx="5.2" ry="4.6" fill="#231815" stroke="none" stroke-width="0.00"/>
<path d="M702.0 227.0 L702.0 241.0" fill="none" stroke="#231815" stroke-width="6.60" stroke-linejoin="round" stroke-linecap="butt"/>
<ellipse cx="702.0" cy="243.0" rx="6.6" ry="4.6" fill="#231815" stroke="none" stroke-width="0.00"/>
<ellipse cx="702.0" cy="226.3" rx="1.5" ry="0.7" fill="#fff" stroke="none" stroke-width="0.00"/>
<path d="M702.0 243.0 L702.0 256.5" fill="none" stroke="#231815" stroke-width="1.30" stroke-linejoin="round" stroke-linecap="butt"/>
<ellipse cx="702.0" cy="256.5" rx="5.2" ry="3.2" fill="#231815" stroke="none" stroke-width="0.00"/>
<ellipse cx="702.0" cy="256.5" rx="0.9" ry="0.3" fill="#fff" stroke="none" stroke-width="0.00"/>
<ellipse cx="702.0" cy="292.0" rx="5.4" ry="4.2" fill="#231815" stroke="none" stroke-width="0.00"/>
<path d="M702.0 270.0 L702.0 290.0" fill="none" stroke="#231815" stroke-width="1.40" stroke-linejoin="round" stroke-linecap="butt"/>
<ellipse cx="768.0" cy="265.5" rx="5.2" ry="4.6" fill="#231815" stroke="none" stroke-width="0.00"/>
<path d="M768.0 265.0 L768.0 279.0" fill="none" stroke="#231815" stroke-width="6.60" stroke-linejoin="round" stroke-linecap="butt"/>
<ellipse cx="768.0" cy="281.0" rx="6.6" ry="4.6" fill="#231815" stroke="none" stroke-width="0.00"/>
<ellipse cx="768.0" cy="264.3" rx="1.5" ry="0.7" fill="#fff" stroke="none" stroke-width="0.00"/>
<path d="M768.0 281.0 L768.0 294.5" fill="none" stroke="#231815" stroke-width="1.30" stroke-linejoin="round" stroke-linecap="butt"/>
<ellipse cx="768.0" cy="294.5" rx="5.2" ry="3.2" fill="#231815" stroke="none" stroke-width="0.00"/>
<ellipse cx="768.0" cy="294.5" rx="0.9" ry="0.3" fill="#fff" stroke="none" stroke-width="0.00"/>
<ellipse cx="768.0" cy="330.0" rx="5.4" ry="4.2" fill="#231815" stroke="none" stroke-width="0.00"/>
<path d="M768.0 308.0 L768.0 328.0" fill="none" stroke="#231815" stroke-width="1.40" stroke-linejoin="round" stroke-linecap="butt"/>
<ellipse cx="834.0" cy="304.0" rx="5.2" ry="4.6" fill="#231815" stroke="none" stroke-width="0.00"/>
<path d="M834.0 303.5 L834.0 317.5" fill="none" stroke="#231815" stroke-width="6.60" stroke-linejoin="round" stroke-linecap="butt"/>
<ellipse cx="834.0" cy="319.5" rx="6.6" ry="4.6" fill="#231815" stroke="none" stroke-width="0.00"/>
<ellipse cx="834.0" cy="302.8" rx="1.5" ry="0.7" fill="#fff" stroke="none" stroke-width="0.00"/>
<path d="M834.0 319.5 L834.0 333.0" fill="none" stroke="#231815" stroke-width="1.30" stroke-linejoin="round" stroke-linecap="butt"/>
<ellipse cx="834.0" cy="333.0" rx="5.2" ry="3.2" fill="#231815" stroke="none" stroke-width="0.00"/>
<ellipse cx="834.0" cy="333.0" rx="0.9" ry="0.3" fill="#fff" stroke="none" stroke-width="0.00"/>
<ellipse cx="834.0" cy="369.0" rx="5.4" ry="4.2" fill="#231815" stroke="none" stroke-width="0.00"/>
<path d="M834.4 345.0 L834.4 367.0" fill="none" stroke="#231815" stroke-width="1.40" stroke-linejoin="round" stroke-linecap="butt"/>
<ellipse cx="868.0" cy="295.0" rx="5.2" ry="4.6" fill="#231815" stroke="none" stroke-width="0.00"/>
<path d="M868.0 294.5 L868.0 307.0" fill="none" stroke="#231815" stroke-width="6.60" stroke-linejoin="round" stroke-linecap="butt"/>
<ellipse cx="868.0" cy="309.0" rx="6.6" ry="4.6" fill="#231815" stroke="none" stroke-width="0.00"/>
<ellipse cx="868.0" cy="293.8" rx="1.5" ry="0.7" fill="#fff" stroke="none" stroke-width="0.00"/>
<path d="M868.0 309.0 L868.0 320.5" fill="none" stroke="#231815" stroke-width="1.30" stroke-linejoin="round" stroke-linecap="butt"/>
<ellipse cx="868.0" cy="320.5" rx="5.2" ry="3.2" fill="#231815" stroke="none" stroke-width="0.00"/>
<ellipse cx="868.0" cy="320.5" rx="0.9" ry="0.3" fill="#fff" stroke="none" stroke-width="0.00"/>
<ellipse cx="306.0" cy="264.5" rx="5.2" ry="4.6" fill="#231815" stroke="none" stroke-width="0.00"/>
<path d="M306.0 264.0 L306.0 277.0" fill="none" stroke="#231815" stroke-width="6.60" stroke-linejoin="round" stroke-linecap="butt"/>
<ellipse cx="306.0" cy="279.0" rx="6.6" ry="4.6" fill="#231815" stroke="none" stroke-width="0.00"/>
<ellipse cx="306.0" cy="263.3" rx="1.5" ry="0.7" fill="#fff" stroke="none" stroke-width="0.00"/>
<path d="M306.0 279.0 L306.0 305.0" fill="none" stroke="#231815" stroke-width="1.30" stroke-linejoin="round" stroke-linecap="butt"/>
<ellipse cx="306.0" cy="305.0" rx="5.2" ry="3.2" fill="#231815" stroke="none" stroke-width="0.00"/>
<ellipse cx="306.0" cy="305.0" rx="0.9" ry="0.3" fill="#fff" stroke="none" stroke-width="0.00"/>
<ellipse cx="652.5" cy="475.0" rx="5.2" ry="4.6" fill="#231815" stroke="none" stroke-width="0.00"/>
<path d="M652.5 474.5 L652.5 488.0" fill="none" stroke="#231815" stroke-width="6.60" stroke-linejoin="round" stroke-linecap="butt"/>
<ellipse cx="652.5" cy="490.0" rx="6.6" ry="4.6" fill="#231815" stroke="none" stroke-width="0.00"/>
<ellipse cx="652.5" cy="473.8" rx="1.5" ry="0.7" fill="#fff" stroke="none" stroke-width="0.00"/>
<path d="M652.5 490.0 L652.5 502.5" fill="none" stroke="#231815" stroke-width="1.30" stroke-linejoin="round" stroke-linecap="butt"/>
<ellipse cx="652.5" cy="502.5" rx="5.2" ry="3.2" fill="#231815" stroke="none" stroke-width="0.00"/>
<ellipse cx="652.5" cy="502.5" rx="0.9" ry="0.3" fill="#fff" stroke="none" stroke-width="0.00"/>
<ellipse cx="473.2" cy="505.5" rx="5.2" ry="4.6" fill="#231815" stroke="none" stroke-width="0.00"/>
<path d="M473.2 505.0 L473.2 519.7" fill="none" stroke="#231815" stroke-width="6.60" stroke-linejoin="round" stroke-linecap="butt"/>
<ellipse cx="473.2" cy="521.7" rx="6.6" ry="4.6" fill="#231815" stroke="none" stroke-width="0.00"/>
<ellipse cx="473.2" cy="504.3" rx="1.5" ry="0.7" fill="#fff" stroke="none" stroke-width="0.00"/>
<path d="M473.2 521.7 L473.2 539.5" fill="none" stroke="#231815" stroke-width="1.30" stroke-linejoin="round" stroke-linecap="butt"/>
<ellipse cx="473.2" cy="539.5" rx="5.2" ry="3.2" fill="#231815" stroke="none" stroke-width="0.00"/>
<ellipse cx="473.2" cy="539.5" rx="0.9" ry="0.3" fill="#fff" stroke="none" stroke-width="0.00"/>
<ellipse cx="371.7" cy="569.0" rx="5.2" ry="4.6" fill="#231815" stroke="none" stroke-width="0.00"/>
<path d="M371.7 568.5 L371.7 583.0" fill="none" stroke="#231815" stroke-width="6.60" stroke-linejoin="round" stroke-linecap="butt"/>
<ellipse cx="371.7" cy="585.0" rx="6.6" ry="4.6" fill="#231815" stroke="none" stroke-width="0.00"/>
<ellipse cx="371.7" cy="567.8" rx="1.5" ry="0.7" fill="#fff" stroke="none" stroke-width="0.00"/>
<ellipse cx="819.5" cy="708.5" rx="5.2" ry="4.6" fill="#231815" stroke="none" stroke-width="0.00"/>
<path d="M819.5 708.0 L819.5 721.7" fill="none" stroke="#231815" stroke-width="6.60" stroke-linejoin="round" stroke-linecap="butt"/>
<ellipse cx="819.5" cy="723.7" rx="6.6" ry="4.6" fill="#231815" stroke="none" stroke-width="0.00"/>
<ellipse cx="819.5" cy="707.3" rx="1.5" ry="0.7" fill="#fff" stroke="none" stroke-width="0.00"/>
<path d="M819.5 723.7 L819.5 739.5" fill="none" stroke="#231815" stroke-width="1.30" stroke-linejoin="round" stroke-linecap="butt"/>
<ellipse cx="819.5" cy="739.5" rx="5.2" ry="3.2" fill="#231815" stroke="none" stroke-width="0.00"/>
<ellipse cx="819.5" cy="739.5" rx="0.9" ry="0.3" fill="#fff" stroke="none" stroke-width="0.00"/>
<ellipse cx="717.5" cy="767.0" rx="5.2" ry="4.6" fill="#231815" stroke="none" stroke-width="0.00"/>
<path d="M717.5 766.5 L717.5 781.0" fill="none" stroke="#231815" stroke-width="6.60" stroke-linejoin="round" stroke-linecap="butt"/>
<ellipse cx="717.5" cy="783.0" rx="6.6" ry="4.6" fill="#231815" stroke="none" stroke-width="0.00"/>
<ellipse cx="717.5" cy="765.8" rx="1.5" ry="0.7" fill="#fff" stroke="none" stroke-width="0.00"/>
<path d="M717.5 783.0 L717.5 798.0" fill="none" stroke="#231815" stroke-width="1.30" stroke-linejoin="round" stroke-linecap="butt"/>
<ellipse cx="717.5" cy="798.0" rx="5.2" ry="3.2" fill="#231815" stroke="none" stroke-width="0.00"/>
<ellipse cx="717.5" cy="798.0" rx="0.9" ry="0.3" fill="#fff" stroke="none" stroke-width="0.00"/>
<ellipse cx="616.0" cy="826.5" rx="5.2" ry="4.6" fill="#231815" stroke="none" stroke-width="0.00"/>
<path d="M616.0 826.0 L616.0 839.0" fill="none" stroke="#231815" stroke-width="6.60" stroke-linejoin="round" stroke-linecap="butt"/>
<ellipse cx="616.0" cy="841.0" rx="6.6" ry="4.6" fill="#231815" stroke="none" stroke-width="0.00"/>
<ellipse cx="616.0" cy="825.3" rx="1.5" ry="0.7" fill="#fff" stroke="none" stroke-width="0.00"/>
<path d="M616.0 841.0 L616.0 857.0" fill="none" stroke="#231815" stroke-width="1.30" stroke-linejoin="round" stroke-linecap="butt"/>
<ellipse cx="616.0" cy="857.0" rx="5.2" ry="3.2" fill="#231815" stroke="none" stroke-width="0.00"/>
<ellipse cx="616.0" cy="857.0" rx="0.9" ry="0.3" fill="#fff" stroke="none" stroke-width="0.00"/>
<path d="M68.5 489.0 L88.7 477.5" fill="none" stroke="#231815" stroke-width="1.10" stroke-linejoin="round" stroke-linecap="butt"/>
<path d="M54.5 497.0 L68.5 489.0" fill="none" stroke="#231815" stroke-width="6.00" stroke-linejoin="round" stroke-linecap="butt"/>
<ellipse cx="54.5" cy="497.0" rx="4.2" ry="5.2" fill="#231815" stroke="none" stroke-width="0.00" transform="rotate(-29.7449 54.5 497.0)"/>
<ellipse cx="68.5" cy="489.0" rx="4.6" ry="6.4" fill="#231815" stroke="none" stroke-width="0.00" transform="rotate(-29.7449 68.5 489.0)"/>
<ellipse cx="53.7" cy="497.4" rx="1.2" ry="2.0" fill="#fff" stroke="none" stroke-width="0.00" transform="rotate(-29.7449 53.7 497.4)"/>
<ellipse cx="88.7" cy="477.5" rx="2.8" ry="4.2" fill="#231815" stroke="none" stroke-width="0.00" transform="rotate(-25 88.7 477.5)"/>
<path d="M68.5 620.0 L88.7 608.5" fill="none" stroke="#231815" stroke-width="1.10" stroke-linejoin="round" stroke-linecap="butt"/>
<path d="M54.5 628.0 L68.5 620.0" fill="none" stroke="#231815" stroke-width="6.00" stroke-linejoin="round" stroke-linecap="butt"/>
<ellipse cx="54.5" cy="628.0" rx="4.2" ry="5.2" fill="#231815" stroke="none" stroke-width="0.00" transform="rotate(-29.7449 54.5 628.0)"/>
<ellipse cx="68.5" cy="620.0" rx="4.6" ry="6.4" fill="#231815" stroke="none" stroke-width="0.00" transform="rotate(-29.7449 68.5 620.0)"/>
<ellipse cx="53.7" cy="628.4" rx="1.2" ry="2.0" fill="#fff" stroke="none" stroke-width="0.00" transform="rotate(-29.7449 53.7 628.4)"/>
<ellipse cx="88.7" cy="608.5" rx="2.8" ry="4.2" fill="#231815" stroke="none" stroke-width="0.00" transform="rotate(-25 88.7 608.5)"/>
<path d="M424.0 681.0 L434.5 676.5" fill="none" stroke="#231815" stroke-width="1.10" stroke-linejoin="round" stroke-linecap="butt"/>
<path d="M410.0 689.5 L424.0 681.0" fill="none" stroke="#231815" stroke-width="6.00" stroke-linejoin="round" stroke-linecap="butt"/>
<ellipse cx="410.0" cy="689.5" rx="4.2" ry="5.2" fill="#231815" stroke="none" stroke-width="0.00" transform="rotate(-31.2637 410.0 689.5)"/>
<ellipse cx="424.0" cy="681.0" rx="4.6" ry="6.4" fill="#231815" stroke="none" stroke-width="0.00" transform="rotate(-31.2637 424.0 681.0)"/>
<ellipse cx="409.2" cy="689.9" rx="1.2" ry="2.0" fill="#fff" stroke="none" stroke-width="0.00" transform="rotate(-31.2637 409.2 689.9)"/>
<ellipse cx="434.5" cy="676.5" rx="2.8" ry="4.2" fill="#231815" stroke="none" stroke-width="0.00" transform="rotate(-25 434.5 676.5)"/>
<path d="M424.0 812.0 L434.5 807.0" fill="none" stroke="#231815" stroke-width="1.10" stroke-linejoin="round" stroke-linecap="butt"/>
<path d="M410.0 820.5 L424.0 812.0" fill="none" stroke="#231815" stroke-width="6.00" stroke-linejoin="round" stroke-linecap="butt"/>
<ellipse cx="410.0" cy="820.5" rx="4.2" ry="5.2" fill="#231815" stroke="none" stroke-width="0.00" transform="rotate(-31.2637 410.0 820.5)"/>
<ellipse cx="424.0" cy="812.0" rx="4.6" ry="6.4" fill="#231815" stroke="none" stroke-width="0.00" transform="rotate(-31.2637 424.0 812.0)"/>
<ellipse cx="409.2" cy="820.9" rx="1.2" ry="2.0" fill="#fff" stroke="none" stroke-width="0.00" transform="rotate(-31.2637 409.2 820.9)"/>
<ellipse cx="434.5" cy="807.0" rx="2.8" ry="4.2" fill="#231815" stroke="none" stroke-width="0.00" transform="rotate(-25 434.5 807.0)"/>
<path d="M654.0 100.0 L672.0 90.0" fill="none" stroke="#231815" stroke-width="1.10" stroke-linejoin="round" stroke-linecap="butt"/>
<path d="M639.0 108.0 L654.0 100.0" fill="none" stroke="#231815" stroke-width="6.00" stroke-linejoin="round" stroke-linecap="butt"/>
<ellipse cx="639.0" cy="108.0" rx="4.2" ry="5.2" fill="#231815" stroke="none" stroke-width="0.00" transform="rotate(-28.0725 639.0 108.0)"/>
<ellipse cx="654.0" cy="100.0" rx="4.6" ry="6.4" fill="#231815" stroke="none" stroke-width="0.00" transform="rotate(-28.0725 654.0 100.0)"/>
<ellipse cx="638.2" cy="108.4" rx="1.2" ry="2.0" fill="#fff" stroke="none" stroke-width="0.00" transform="rotate(-28.0725 638.2 108.4)"/>
<ellipse cx="672.0" cy="90.5" rx="2.0" ry="4.2" fill="#231815" stroke="none" stroke-width="0.00"/>
<path d="M997.5 300.0 L1017.5 288.7" fill="none" stroke="#231815" stroke-width="1.10" stroke-linejoin="round" stroke-linecap="butt"/>
<path d="M983.7 308.0 L997.5 300.0" fill="none" stroke="#231815" stroke-width="6.00" stroke-linejoin="round" stroke-linecap="butt"/>
<ellipse cx="983.7" cy="308.0" rx="4.2" ry="5.2" fill="#231815" stroke="none" stroke-width="0.00" transform="rotate(-30.1013 983.7 308.0)"/>
<ellipse cx="997.5" cy="300.0" rx="4.6" ry="6.4" fill="#231815" stroke="none" stroke-width="0.00" transform="rotate(-30.1013 997.5 300.0)"/>
<ellipse cx="982.9" cy="308.4" rx="1.2" ry="2.0" fill="#fff" stroke="none" stroke-width="0.00" transform="rotate(-30.1013 982.9 308.4)"/>
<ellipse cx="1017.5" cy="288.7" rx="2.4" ry="4.4" fill="#231815" stroke="none" stroke-width="0.00"/>
<path d="M998.0 404.9 L1017.5 394.0" fill="none" stroke="#231815" stroke-width="1.10" stroke-linejoin="round" stroke-linecap="butt"/>
<path d="M983.9 412.6 L998.0 404.9" fill="none" stroke="#231815" stroke-width="6.00" stroke-linejoin="round" stroke-linecap="butt"/>
<ellipse cx="983.9" cy="412.6" rx="4.2" ry="5.2" fill="#231815" stroke="none" stroke-width="0.00" transform="rotate(-28.6389 983.9 412.6)"/>
<ellipse cx="998.0" cy="404.9" rx="4.6" ry="6.4" fill="#231815" stroke="none" stroke-width="0.00" transform="rotate(-28.6389 998.0 404.9)"/>
<ellipse cx="983.1" cy="413.0" rx="1.2" ry="2.0" fill="#fff" stroke="none" stroke-width="0.00" transform="rotate(-28.6389 983.1 413.0)"/>
<path d="M1016.5 390.5 L1021.5 396.5" fill="none" stroke="#231815" stroke-width="2.60" stroke-linejoin="round" stroke-linecap="round"/>
<path d="M998.0 509.4 L1016.0 498.0" fill="none" stroke="#231815" stroke-width="1.10" stroke-linejoin="round" stroke-linecap="butt"/>
<path d="M983.9 517.7 L998.0 509.4" fill="none" stroke="#231815" stroke-width="6.00" stroke-linejoin="round" stroke-linecap="butt"/>
<ellipse cx="983.9" cy="517.7" rx="4.2" ry="5.2" fill="#231815" stroke="none" stroke-width="0.00" transform="rotate(-30.4833 983.9 517.7)"/>
<ellipse cx="998.0" cy="509.4" rx="4.6" ry="6.4" fill="#231815" stroke="none" stroke-width="0.00" transform="rotate(-30.4833 998.0 509.4)"/>
<ellipse cx="983.1" cy="518.1" rx="1.2" ry="2.0" fill="#fff" stroke="none" stroke-width="0.00" transform="rotate(-30.4833 983.1 518.1)"/>
<path d="M430.5 149.0 L443.5 156.5 L443.5 178.0 L430.5 170.5 Z" fill="none" stroke="#231815" stroke-width="3.20" stroke-linejoin="round" stroke-linecap="butt"/>
<ellipse cx="437.0" cy="163.5" rx="2.4" ry="3.2" fill="#231815" stroke="none" stroke-width="0.00"/>
<path d="M1131.5 554.0 L1144.5 561.5 L1144.5 583.0 L1131.5 575.5 Z" fill="none" stroke="#231815" stroke-width="3.20" stroke-linejoin="round" stroke-linecap="butt"/>
<ellipse cx="1138.0" cy="568.5" rx="2.4" ry="3.2" fill="#231815" stroke="none" stroke-width="0.00"/>
<path d="M1131.5 659.0 L1144.5 666.5 L1144.5 688.0 L1131.5 680.5 Z" fill="none" stroke="#231815" stroke-width="3.20" stroke-linejoin="round" stroke-linecap="butt"/>
<ellipse cx="1138.0" cy="673.5" rx="2.4" ry="3.2" fill="#231815" stroke="none" stroke-width="0.00"/>
<path d="M1131.5 764.0 L1144.5 771.5 L1144.5 793.0 L1131.5 785.5 Z" fill="none" stroke="#231815" stroke-width="3.20" stroke-linejoin="round" stroke-linecap="butt"/>
<ellipse cx="1138.0" cy="778.5" rx="2.4" ry="3.2" fill="#231815" stroke="none" stroke-width="0.00"/>
<path d="M1124.2 576.5 L1131.0 572.5" fill="none" stroke="#231815" stroke-width="1.20" stroke-linejoin="round" stroke-linecap="butt"/>
<path d="M1147.0 557.0 L1150.5 555.0" fill="none" stroke="#231815" stroke-width="1.20" stroke-linejoin="round" stroke-linecap="butt"/>
<path d="M1124.2 681.5 L1131.0 677.5" fill="none" stroke="#231815" stroke-width="1.20" stroke-linejoin="round" stroke-linecap="butt"/>
<path d="M1147.0 662.0 L1150.5 660.0" fill="none" stroke="#231815" stroke-width="1.20" stroke-linejoin="round" stroke-linecap="butt"/>
<path d="M1124.2 786.0 L1131.0 782.0" fill="none" stroke="#231815" stroke-width="1.20" stroke-linejoin="round" stroke-linecap="butt"/>
<path d="M1147.0 766.5 L1150.5 764.5" fill="none" stroke="#231815" stroke-width="1.20" stroke-linejoin="round" stroke-linecap="butt"/>
<path d="M188.5 316.8 L196.5 314.8 L202.0 318.5 L201.5 323.5 L196.0 326.0 L189.5 322.5 Z" fill="#231815" stroke="#231815" stroke-width="3.00" stroke-linejoin="round" stroke-linecap="butt"/>
<ellipse cx="195.0" cy="320.2" rx="2.3" ry="1.5" fill="#fff" stroke="none" stroke-width="0.00" transform="rotate(-15 195.0 320.2)"/>
<ellipse cx="195.8" cy="320.5" rx="1.2" ry="0.8" fill="#231815" stroke="none" stroke-width="0.00" transform="rotate(-15 195.8 320.5)"/>
<ellipse cx="182.5" cy="313.7" rx="4.6" ry="3.0" fill="#231815" stroke="none" stroke-width="0.00"/>
<path d="M154.5 382.5 L160.0 380.5 L165.0 386.0 L165.0 394.0 L160.0 396.0 L154.5 390.5 Z" fill="#231815" stroke="#231815" stroke-width="3.00" stroke-linejoin="round" stroke-linecap="butt"/>
<ellipse cx="160.3" cy="388.8" rx="1.5" ry="2.3" fill="#fff" stroke="none" stroke-width="0.00" transform="rotate(-15 160.3 388.8)"/>
<ellipse cx="160.6" cy="389.4" rx="0.8" ry="1.2" fill="#231815" stroke="none" stroke-width="0.00" transform="rotate(-15 160.6 389.4)"/>
<ellipse cx="147.5" cy="382.0" rx="3.0" ry="4.2" fill="#231815" stroke="none" stroke-width="0.00" transform="rotate(-35 147.5 382.0)"/>
<path d="M281.0 486.3 L289.0 484.3 L294.5 488.0 L294.0 493.0 L288.5 495.5 L282.0 492.0 Z" fill="#231815" stroke="#231815" stroke-width="3.00" stroke-linejoin="round" stroke-linecap="butt"/>
<ellipse cx="287.5" cy="489.7" rx="2.3" ry="1.5" fill="#fff" stroke="none" stroke-width="0.00" transform="rotate(-15 287.5 489.7)"/>
<ellipse cx="288.3" cy="490.0" rx="1.2" ry="0.8" fill="#231815" stroke="none" stroke-width="0.00" transform="rotate(-15 288.3 490.0)"/>
<ellipse cx="275.0" cy="483.2" rx="4.6" ry="3.0" fill="#231815" stroke="none" stroke-width="0.00"/>
<path d="M383.2 427.3 L391.2 425.3 L396.7 429.0 L396.2 434.0 L390.7 436.5 L384.2 433.0 Z" fill="#231815" stroke="#231815" stroke-width="3.00" stroke-linejoin="round" stroke-linecap="butt"/>
<ellipse cx="389.7" cy="430.7" rx="2.3" ry="1.5" fill="#fff" stroke="none" stroke-width="0.00" transform="rotate(-15 389.7 430.7)"/>
<ellipse cx="390.5" cy="431.0" rx="1.2" ry="0.8" fill="#231815" stroke="none" stroke-width="0.00" transform="rotate(-15 390.5 431.0)"/>
<ellipse cx="377.2" cy="424.2" rx="4.6" ry="3.0" fill="#231815" stroke="none" stroke-width="0.00"/>
<path d="M402.5 171.3 L410.5 169.3 L416.0 173.0 L415.5 178.0 L410.0 180.5 L403.5 177.0 Z" fill="#231815" stroke="#231815" stroke-width="3.00" stroke-linejoin="round" stroke-linecap="butt"/>
<ellipse cx="409.0" cy="174.7" rx="2.3" ry="1.5" fill="#fff" stroke="none" stroke-width="0.00" transform="rotate(-15 409.0 174.7)"/>
<ellipse cx="409.8" cy="175.0" rx="1.2" ry="0.8" fill="#231815" stroke="none" stroke-width="0.00" transform="rotate(-15 409.8 175.0)"/>
<ellipse cx="396.5" cy="168.2" rx="4.6" ry="3.0" fill="#231815" stroke="none" stroke-width="0.00"/>
<path d="M828.2 776.5 L839.2 779.5 L839.7 788.5 L828.7 786.5 Z" fill="none" stroke="#231815" stroke-width="3.20" stroke-linejoin="round" stroke-linecap="butt"/>
<path d="M832.5 780.8 L836.1 781.6 L836.1 785.0 L832.7 784.2 Z" fill="none" stroke="#231815" stroke-width="1.30" stroke-linejoin="round" stroke-linecap="butt"/>
<path d="M828.2 907.0 L839.2 910.0 L839.7 919.0 L828.7 917.0 Z" fill="none" stroke="#231815" stroke-width="3.20" stroke-linejoin="round" stroke-linecap="butt"/>
<path d="M832.5 911.3 L836.1 912.1 L836.1 915.5 L832.7 914.7 Z" fill="none" stroke="#231815" stroke-width="1.30" stroke-linejoin="round" stroke-linecap="butt"/>
<ellipse cx="849.2" cy="788.5" rx="2.8" ry="4.0" fill="#231815" stroke="none" stroke-width="0.00"/>
<ellipse cx="849.2" cy="919.0" rx="2.8" ry="4.0" fill="#231815" stroke="none" stroke-width="0.00"/>
<path d="M866.0 708.0 L873.0 703.0 L882.0 709.0 L875.0 716.0 Z" fill="none" stroke="#231815" stroke-width="3.20" stroke-linejoin="round" stroke-linecap="butt"/>
<path d="M872.0 709.0 L875.5 707.0 L877.5 710.0 L874.0 712.0 Z" fill="none" stroke="#231815" stroke-width="1.20" stroke-linejoin="round" stroke-linecap="butt"/>
<ellipse cx="885.5" cy="719.0" rx="4.2" ry="2.8" fill="#231815" stroke="none" stroke-width="0.00"/>
<path d="M1081.5 563.0 L1088.5 558.0 L1097.5 564.0 L1090.5 571.0 Z" fill="none" stroke="#231815" stroke-width="3.20" stroke-linejoin="round" stroke-linecap="butt"/>
<path d="M1087.5 564.0 L1091.0 562.0 L1093.0 565.0 L1089.5 567.0 Z" fill="none" stroke="#231815" stroke-width="1.20" stroke-linejoin="round" stroke-linecap="butt"/>
<ellipse cx="1100.0" cy="573.7" rx="4.2" ry="2.8" fill="#231815" stroke="none" stroke-width="0.00"/>
</svg>
</body></html>
